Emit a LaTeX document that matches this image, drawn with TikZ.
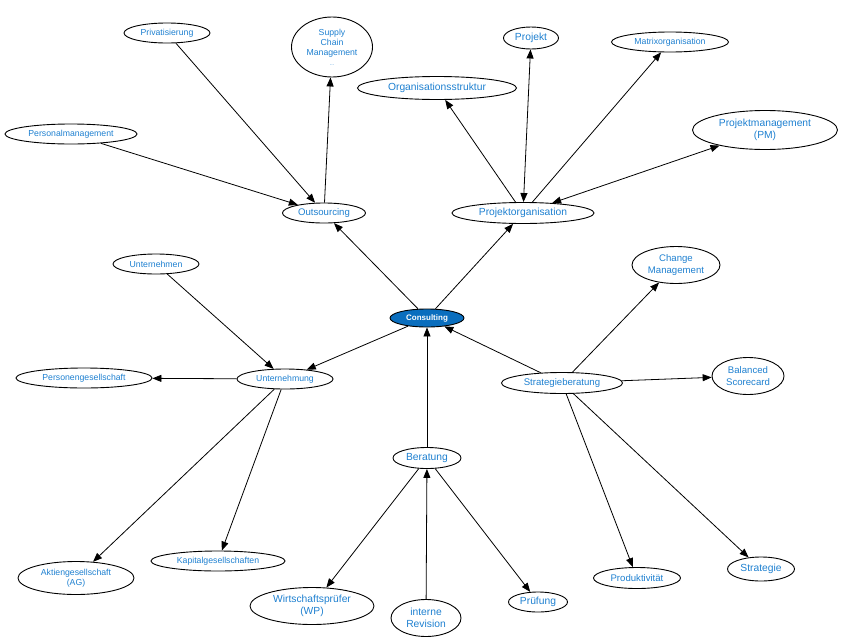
\documentclass[tikz,border=0pt]{standalone}
\usepackage{fontspec}
\setmainfont{Liberation Sans}
\usepackage{tikz}
\usetikzlibrary{shapes.geometric,arrows.meta}
\definecolor{MAPblue}{RGB}{30, 128, 208}
\definecolor{MAPfill}{RGB}{10, 110, 190}

\begin{document}
\begin{tikzpicture}[x=1pt,y=-1pt,
    bub/.style={ellipse,draw,line width=0.9pt,inner sep=0pt,align=center,text=MAPblue},
    sm/.style={bub,font=\fontsize{8.7}{10}\selectfont},
    md/.style={bub,font=\fontsize{9.6}{11.5}\selectfont},
    lg/.style={bub,font=\fontsize{10.3}{12}\selectfont},
    arr/.style={-{Triangle[length=9pt,width=7pt]},line width=0.8pt},
    arrb/.style={{Triangle[length=9pt,width=7pt]}-{Triangle[length=9pt,width=7pt]},line width=0.8pt}]
    \useasboundingbox (0,0) rectangle (846,640);
    % centre
    \node[bub,fill=MAPfill,text=white,font=\fontsize{8}{10}\selectfont\bfseries,minimum width=74pt,minimum height=18pt] (con) at (427,318) {Consulting};
    % first ring
    \node[md,minimum width=83pt,minimum height=20pt] (out) at (324,213) {Outsourcing};
    \node[lg,minimum width=142pt,minimum height=21pt] (porg) at (523,213) {Projektorganisation};
    \node[sm,minimum width=96pt,minimum height=20pt] (unt) at (285,379) {Unternehmung};
    \node[md,minimum width=121pt,minimum height=21pt] (strat) at (562,383) {Strategieberatung};
    \node[lg,minimum width=68pt,minimum height=21pt] (ber) at (427,458) {Beratung};
    % outsourcing
    \node[sm,minimum width=86pt,minimum height=20pt] (priv) at (167,33) {Privatisierung};
    \node[sm,minimum width=81pt,minimum height=60pt] (scm) at (332,47) {Supply\\Chain\\Management\\\tiny ...};
    \node[sm,minimum width=132pt,minimum height=20pt] (pers) at (71,134) {Personalmanagement};
    % projektorganisation
    \node[lg,minimum width=159pt,minimum height=23pt] (orgs) at (437,88) {Organisationsstruktur};
    \node[lg,minimum width=55pt,minimum height=22pt] (proj) at (531,38) {Projekt};
    \node[sm,minimum width=117pt,minimum height=20pt] (matr) at (670,42) {Matrixorganisation};
    \node[lg,minimum width=145pt,minimum height=39pt] (pm) at (765,130) {Projektmanagement\\(PM)};
    % unternehmung
    \node[sm,minimum width=86pt,minimum height=20pt] (untn) at (156,264) {Unternehmen};
    \node[sm,minimum width=136pt,minimum height=20pt] (pges) at (84,378) {Personengesellschaft};
    \node[sm,minimum width=116pt,minimum height=33pt] (ag) at (76,578) {Aktiengesellschaft\\(AG)};
    \node[sm,minimum width=134pt,minimum height=20pt] (kap) at (218,561) {Kapitalgesellschaften};
    % beratung
    \node[lg,minimum width=124pt,minimum height=37pt] (wp) at (312,606) {Wirtschaftspr\"ufer\\(WP)};
    \node[lg,minimum width=70pt,minimum height=37pt] (rev) at (426,618) {interne\\Revision};
    \node[lg,minimum width=59pt,minimum height=20pt] (pruef) at (538,602) {Pr\"ufung};
    % strategieberatung
    \node[md,minimum width=88pt,minimum height=37pt] (chg) at (676,265) {Change\\Management};
    \node[md,minimum width=72pt,minimum height=37pt] (bsc) at (748,376) {Balanced\\Scorecard};
    \node[md,minimum width=87pt,minimum height=21pt] (prod) at (637,578) {Produktivit\"at};
    \node[lg,minimum width=67pt,minimum height=24pt] (stg) at (761,569) {Strategie};
    % connectors
    \foreach \a/\b in {con/out,con/porg,con/unt,ber/con,strat/con,
        priv/out,pers/out,out/scm,
        porg/orgs,porg/matr,
        untn/unt,unt/pges,unt/ag,unt/kap,
        rev/ber,ber/wp,ber/pruef,
        strat/chg,strat/bsc,strat/prod,strat/stg}
        {\draw[arr] (\a) -- (\b);}
    \draw[arrb] (porg) -- (proj);
    \draw[arrb] (porg) -- (pm);
\end{tikzpicture}
\end{document}
